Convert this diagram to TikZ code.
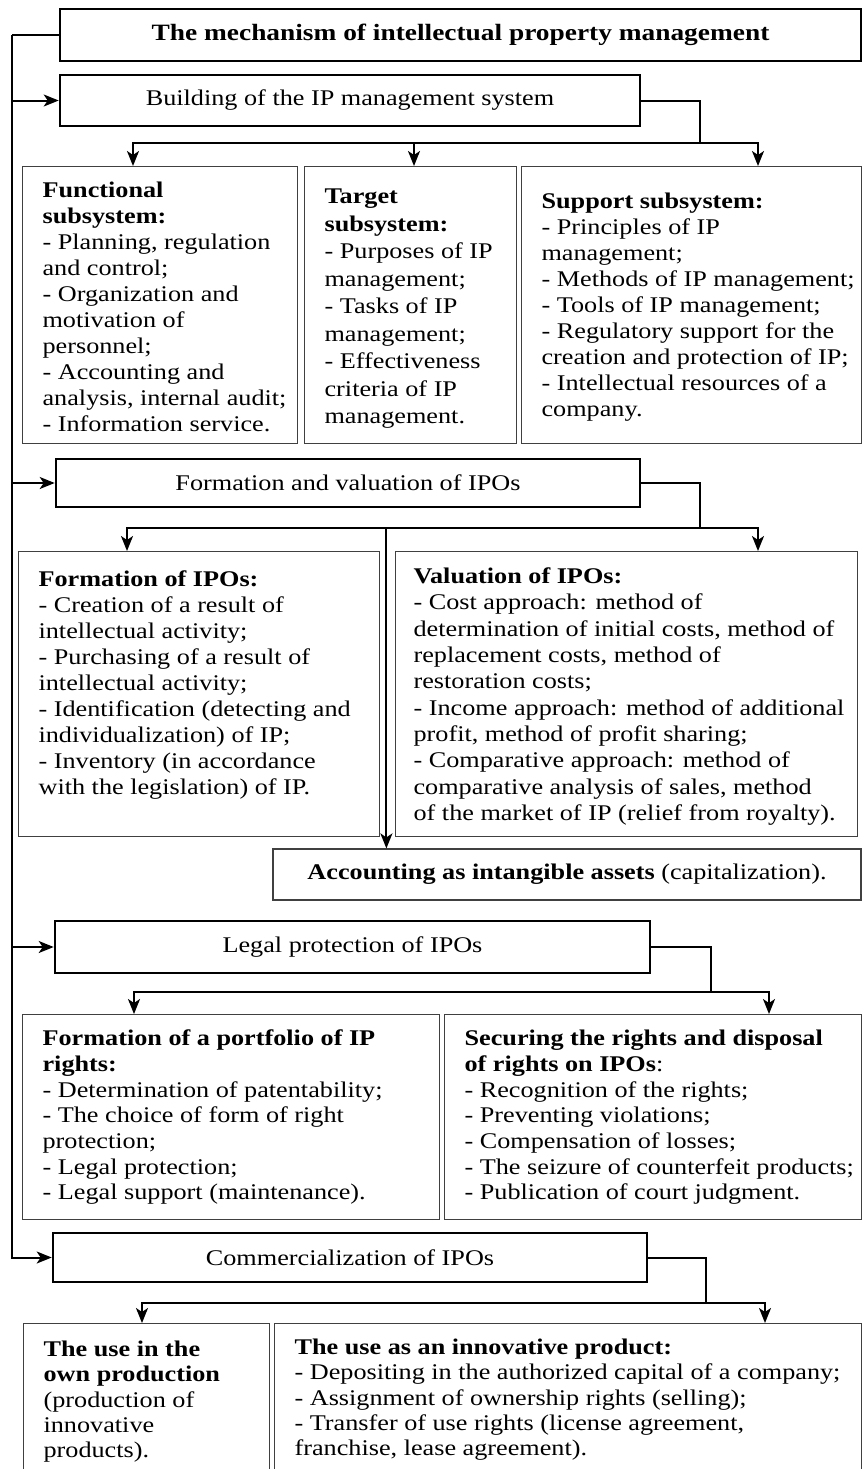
\documentclass[tikz,border=0pt]{standalone}
\usepackage{fontspec}
\setmainfont{Liberation Serif}[FakeStretch=1.17]
\usetikzlibrary{arrows.meta}

\begin{document}
\begin{tikzpicture}
		[x=0.5pt, y=-0.5pt,
		 >={Stealth[length=7.5pt, width=6pt, inset=2pt]},
		 every node/.style={font=\fontsize{11.2pt}{13pt}\selectfont},
		 stage/.style={draw, line width=1.3pt, inner sep=0pt},
		 part/.style={draw=black!75, line width=0.6pt, anchor=north west, inner xsep=10pt, inner ysep=0pt,
		   align=none, execute at begin node={\rightskip=-20pt plus 1fil\relax}},
		 link/.style={line width=1pt}]
		\useasboundingbox (0,0) rectangle (863,1469);

		% stages
		\node[stage, minimum width=400.5pt, minimum height=26pt, font=\fontsize{11.7pt}{13pt}\selectfont\bfseries] (title) at (460.5,35) {The mechanism of intellectual property management};
		\node[stage, minimum width=290pt, minimum height=25.5pt] (build) at (350,100.5) {Building of the IP management system};
		\node[stage, minimum width=292pt, minimum height=24pt] (formval) at (348,483) {Formation and valuation of IPOs};
		\node[stage, minimum width=297.5pt, minimum height=26pt] (legal) at (352.5,947) {Legal protection of IPOs};
		\node[stage, minimum width=297pt, minimum height=24.5pt] (comm) at (350,1257.5) {Commercialization of IPOs};

		% subsystems
		\node[part, text width=117.5pt, text height=15.5pt, text depth=123pt] (func) at (22,166)
			{\textbf{Functional}\\ \textbf{subsystem:}\\ - Planning, regulation\\ and control;\\ - Organization and\\ motivation of\\ personnel;\\ - Accounting and\\ analysis, internal audit;\\ - Information service.};
		\node[part, text width=86pt, text height=18.5pt, text depth=120pt, font=\fontsize{11.2pt}{13.75pt}\selectfont] (target) at (304,166)
			{\textbf{Target}\\ \textbf{subsystem:}\\ - Purposes of IP\\ management;\\ - Tasks of IP\\ management;\\ - Effectiveness\\ criteria of IP\\ management.};
		\node[part, text width=150pt, text height=21pt, text depth=117.5pt] (support) at (521,166)
			{\textbf{Support subsystem:}\\ - Principles of IP\\ management;\\ - Methods of IP management;\\ - Tools of IP management;\\ - Regulatory support for the\\ creation and protection of IP;\\ - Intellectual resources of a\\ company.};

		% formation and valuation
		\node[part, text width=160.5pt, text height=17.5pt, text depth=125pt] (formation) at (18,551)
			{\textbf{Formation of IPOs:}\\ - Creation of a result of\\ intellectual activity;\\ - Purchasing of a result of\\ intellectual activity;\\ - Identification (detecting and\\ individualization) of IP;\\ - Inventory (in accordance\\ with the legislation) of IP.};
		\node[part, text width=213pt, inner xsep=9pt, text height=16pt, text depth=126.5pt, font=\fontsize{11.2pt}{13.15pt}\selectfont] (valuation) at (395,551)
			{\textbf{Valuation of IPOs:}\\ - Cost approach: method of\\ determination of initial costs, method of\\ replacement costs, method of\\ restoration costs;\\ - Income approach: method of additional\\ profit, method of profit sharing;\\ - Comparative approach: method of\\ comparative analysis of sales, method\\ of the market of IP (relief from royalty).};
		\node[draw=black!75, line width=0.6pt, minimum width=294pt, minimum height=25.5pt, inner sep=0pt] (acc) at (567,874.5)
			{\textbf{Accounting as intangible assets} (capitalization).};

		% legal protection
		\node[part, text width=188.5pt, text height=15.5pt, text depth=87pt, font=\fontsize{11.2pt}{12.85pt}\selectfont] (portfolio) at (22,1014)
			{\textbf{Formation of a portfolio of IP}\\ \textbf{rights:}\\ - Determination of patentability;\\ - The choice of form of right\\ protection;\\ - Legal protection;\\ - Legal support (maintenance).};
		\node[part, text width=188.5pt, text height=15.5pt, text depth=87pt, font=\fontsize{11.2pt}{12.85pt}\selectfont] (securing) at (444,1014)
			{\textbf{Securing the rights and disposal}\\ \textbf{of rights on IPOs}:\\ - Recognition of the rights;\\ - Preventing violations;\\ - Compensation of losses;\\ - The seizure of counterfeit products;\\ - Publication of court judgment.};

		% commercialization
		\node[part, text width=103pt, text height=16.5pt, text depth=80pt, font=\fontsize{11.2pt}{12.65pt}\selectfont] (own) at (23,1323)
			{\textbf{The use in the}\\ \textbf{own production}\\ (production of\\ innovative\\ products).};
		\node[part, text width=273.5pt, text height=15.5pt, text depth=80pt, font=\fontsize{11.2pt}{12.65pt}\selectfont] (innov) at (274,1323)
			{\textbf{The use as an innovative product:}\\ - Depositing in the authorized capital of a company;\\ - Assignment of ownership rights (selling);\\ - Transfer of use rights (license agreement,\\ franchise, lease agreement).};

		% left spine
		\coordinate (spine) at (12,35);
		\draw[link] (title.west) -- (spine);
		\draw[link, ->] (spine) |- (build.west);
		\draw[link, ->] (spine) |- (formval.west);
		\draw[link, ->] (spine) |- (legal.west);
		\draw[link, ->] (spine) |- (comm.west);

		% branches
		\coordinate (j1) at (700,143);
		\coordinate (funcin) at ([xshift=55.5pt]func.north west);
		\coordinate (targetin) at ([xshift=55pt]target.north west);
		\coordinate (supportin) at ([xshift=118.5pt]support.north west);
		\draw[link] (build.east) -| (j1);
		\draw[link, ->] (j1) -| (funcin);
		\draw[link, ->] (j1 -| targetin) -- (targetin);
		\draw[link, ->] (j1) -| (supportin);

		\coordinate (j2) at (700,528);
		\coordinate (formin) at ([xshift=54.5pt]formation.north west);
		\coordinate (valin) at ([xshift=181.5pt]valuation.north west);
		\coordinate (accin) at ([xshift=57pt]acc.north west);
		\draw[link] (formval.east) -| (j2);
		\draw[link, ->] (j2) -| (formin);
		\draw[link, ->] (j2) -| (valin);
		\draw[link, ->] (j2 -| accin) -- (accin);

		\coordinate (j3) at (711,992);
		\coordinate (portin) at ([xshift=56pt]portfolio.north west);
		\coordinate (secin) at ([xshift=162.5pt]securing.north west);
		\draw[link] (legal.east) -| (j3);
		\draw[link, ->] (j3) -| (portin);
		\draw[link, ->] (j3) -| (secin);

		\coordinate (j4) at (706,1303);
		\coordinate (ownin) at ([xshift=59.5pt]own.north west);
		\coordinate (innovin) at ([xshift=245.5pt]innov.north west);
		\draw[link] (comm.east) -| (j4);
		\draw[link, ->] (j4) -| (ownin);
		\draw[link, ->] (j4) -| (innovin);
	\end{tikzpicture}
\end{document}
